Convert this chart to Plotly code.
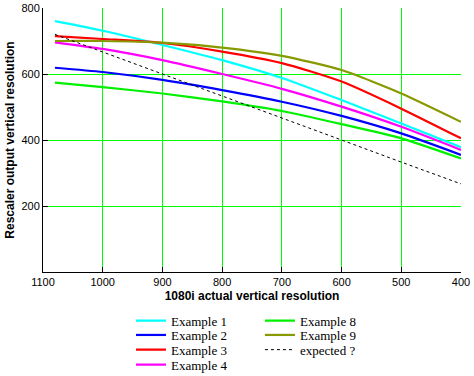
import plotly.graph_objects as go

x_res = [1080, 1000, 900, 800, 700, 600, 500, 400]
example1 = [760, 731, 688, 642, 588, 521, 450, 378]
example2 = [619, 606, 582, 551, 516, 473, 420, 355]
example3 = [715, 706, 694, 668, 633, 577, 495, 405]
example4 = [696, 676, 642, 600, 555, 501, 440, 370]
example8 = [574, 560, 541, 517, 488, 448, 405, 344]
example9 = [700, 700, 695, 680, 655, 612, 541, 455]
expected = [720, 667, 600, 533, 467, 400, 333, 267]

series = [
    ("Example 1", example1, "#00FFFF"),
    ("Example 2", example2, "#0000FF"),
    ("Example 3", example3, "#FF0000"),
    ("Example 4", example4, "#FF00FF"),
    ("Example 8", example8, "#00F000"),
    ("Example 9", example9, "#889900"),
]

# legend slots: (column x in paper, row center y in paper)
col_x = [0.2105, 0.519]
row_y = [-0.1845, -0.2386, -0.2943, -0.3511]
slots = [(0, 0), (0, 1), (0, 2), (0, 3), (1, 0), (1, 1), (1, 2)]

fig = go.Figure()
for i, (name, ys, col) in enumerate(series):
    lg = "legend" if i == 0 else f"legend{i+1}"
    fig.add_trace(go.Scatter(x=x_res, y=ys, name=name, mode="lines",
                             line=dict(color=col, width=2.2, shape="spline", smoothing=0.6),
                             legend=lg, showlegend=True))
fig.add_trace(go.Scatter(x=x_res, y=expected, name="expected ?", mode="lines",
                         line=dict(color="black", width=1, dash="3px,3px"),
                         legend="legend7", showlegend=True))

tick_font = dict(family="Liberation Sans, Arial, sans-serif", size=11, color="black")
title_font = dict(family="Liberation Sans, Arial, sans-serif", size=12, color="black", weight="bold")
leg_font = dict(family="Liberation Serif, Times New Roman, serif", size=13, color="black")

legends = {}
for i, (c, r) in enumerate(slots):
    key = "legend" if i == 0 else f"legend{i+1}"
    legends[key] = dict(x=col_x[c], y=row_y[r], xanchor="left", yanchor="middle",
                        font=leg_font, bgcolor="rgba(0,0,0,0)", visible=True)

fig.update_layout(
    width=474, height=376,
    showlegend=True,
    hovermode=False,
    margin=dict(l=43, r=13, t=8, b=104, autoexpand=False),
    paper_bgcolor="white", plot_bgcolor="white",
    xaxis=dict(range=[1100, 400], tickvals=[1100, 1000, 900, 800, 700, 600, 500, 400],
               showgrid=True, gridcolor="#00FF00", gridwidth=1,
               showline=True, linecolor="black", linewidth=1,
               ticks="inside", ticklen=5, tickcolor="black",
               tickfont=tick_font, zeroline=False,
               title=dict(text="1080i actual vertical resolution", font=title_font, standoff=4)),
    yaxis=dict(range=[0, 800], tickvals=[0, 200, 400, 600, 800], ticktext=["", "200", "400", "600", "800"],
               showgrid=True, gridcolor="#00FF00", gridwidth=1,
               showline=True, linecolor="black", linewidth=1,
               ticks="inside", ticklen=5, tickcolor="black",
               tickfont=tick_font, zeroline=False,
               title=dict(text="Rescaler output vertical resolution", font=title_font, standoff=4)),
    **legends,
)

fig.write_html("out.html", config={"displayModeBar": False},
               post_script="document.body.style.margin='0';")
